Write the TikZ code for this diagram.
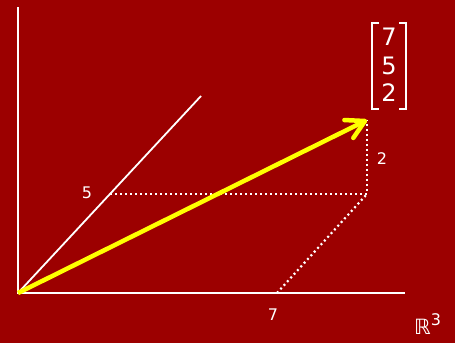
\documentclass[tikz,border=0pt]{standalone}
\usepackage{fontspec}
\setmainfont{DejaVu Sans}
\usetikzlibrary{arrows.meta,positioning}
\definecolor{bgred}{HTML}{9C0000}
\definecolor{vecyellow}{HTML}{FFFF00}

\begin{document}
\begin{tikzpicture}[x=1pt, y=-1pt, >=Stealth,
    axis/.style={draw=white, line width=2.4pt},
    guide/.style={draw=white, line width=2.2pt, dash pattern=on 2pt off 3pt},
    lbl/.style={text=white, inner sep=0pt, font=\fontsize{16}{18}\selectfont},
    entry/.style={text=white, inner sep=0pt, font=\fontsize{24}{26}\selectfont}]
  \fill[bgred] (0,0) rectangle (455,343);
  \useasboundingbox (0,0) rectangle (455,343);
  % axes
  \coordinate (o) at (18,293);
  \coordinate (ztop) at (18,7);
  \coordinate (xend) at (405,293);
  \coordinate (yend) at (201,96);
  \draw[axis] (ztop) -- (o) -- (xend);
  \draw[draw=white, line width=1.8pt] (o) -- (yend);
  % components
  \coordinate (x7) at (277,293);
  \coordinate (y5) at (110,194);
  \coordinate (base) at (367,194);
  \coordinate (tip) at (367,120);
  \draw[guide] (y5) -- (base) -- (tip);
  \draw[guide] (x7) -- (base);
  \draw[line width=4.5pt, vecyellow, -{Straight Barb[length=18pt, width=20pt, round]}] (o) -- (tip);
  \node[lbl] (l5) at (87,193) {5};
  \node[lbl] (l2) at (382,159) {2};
  \node[lbl] (l7) at (273,315) {7};
  % column vector
  \node[entry] (m7) at (389,37) {7};
  \node[entry] (m5) at (389,66) {5};
  \node[entry] (m2) at (389,93) {2};
  \draw[white, line width=1.6pt] (379,23) -- (372,23) -- (372,109) -- (379,109);
  \draw[white, line width=1.6pt] (399,23) -- (406,23) -- (406,109) -- (399,109);
  \node[text=white, inner sep=0pt, anchor=base west, font=\fontsize{21}{22}\selectfont] (space) at (414,334)
    {ℝ\raisebox{9pt}{\fontsize{16}{17}\selectfont 3}};
\end{tikzpicture}
\end{document}
